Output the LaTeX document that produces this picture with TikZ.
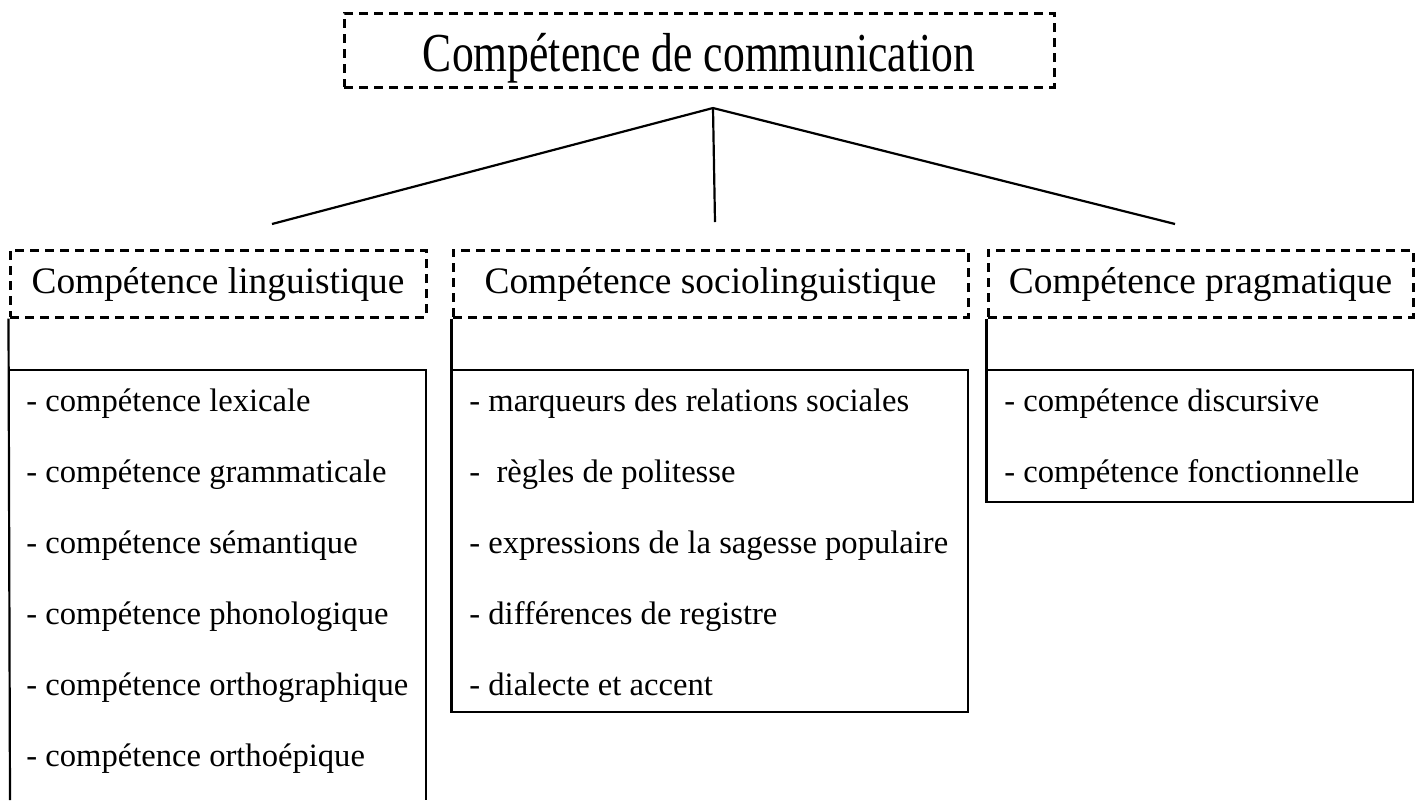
\documentclass[tikz,border=0pt]{standalone}
\usepackage{fontspec}
\setmainfont{Liberation Serif}
\tikzset{
  dashbox/.style={draw, line width=1.5pt, dash pattern=on 4.5pt off 3pt, inner sep=0pt, font=\fontsize{18.7}{22}\selectfont},
  itemtext/.style={anchor=base west, inner sep=0pt, font=\fontsize{16.3}{19}\selectfont},
  link/.style={draw, line width=1.1pt}
}
\begin{document}
\begin{tikzpicture}[x=0.5pt,y=-0.5pt]
\useasboundingbox (0,0) rectangle (1421,800);
% top box
\node[dashbox, minimum width=355pt, minimum height=37pt, font=\fontsize{21.8}{26}\selectfont] (comm) at (699,50) {\raisebox{-10.8pt}[0pt][0pt]{\scalebox{1}[1.26]{Compétence de communication}}};
% second row
\node[dashbox, minimum width=208pt, minimum height=33.5pt] (ling) at (218,283.5) {\raisebox{-4.75pt}[0pt][0pt]{Compétence linguistique}};
\node[dashbox, minimum width=257.5pt, minimum height=33.5pt] (socio) at (710.5,283.5) {\raisebox{-4.75pt}[0pt][0pt]{Compétence sociolinguistique}};
\node[dashbox, minimum width=212.5pt, minimum height=33.5pt] (prag) at (1200.5,283.5) {\raisebox{-4.75pt}[0pt][0pt]{Compétence pragmatique}};
% branches
\coordinate (apex) at (713,108);
\coordinate (e1) at (272,224);
\coordinate (e2) at (715,222);
\coordinate (e3) at (1175,224);
\draw[link] (apex) -- (e1);
\draw[link] (apex) -- (e2);
\draw[link] (apex) -- (e3);
% lists
\draw[link] (ling.south west) -- (10,800);
\draw[link] (10,370) -- (426,370) -- (426,800);
\draw[link] (socio.south west) |- (968,712) |- (453,370);
\draw[link] (prag.south west) |- (1413,502) |- (988,370);
\foreach \t [count=\i] in {compétence lexicale, compétence grammaticale, compétence sémantique, compétence phonologique, compétence orthographique, compétence orthoépique}
  \node[itemtext] (l\i) at (26,340+71*\i) {- \t};
\foreach \t [count=\i] in {marqueurs des relations sociales, {\ règles de politesse}, expressions de la sagesse populaire, différences de registre, dialecte et accent}
  \node[itemtext] (s\i) at (469,340+71*\i) {- \t};
\foreach \t [count=\i] in {compétence discursive, compétence fonctionnelle}
  \node[itemtext] (p\i) at (1004,340+71*\i) {- \t};
\end{tikzpicture}
\end{document}
